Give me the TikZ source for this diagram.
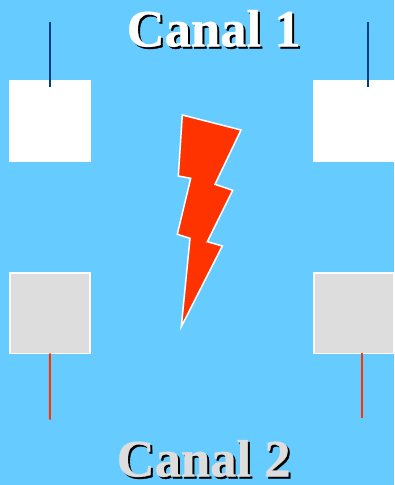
\documentclass[tikz,border=0pt]{standalone}
\usepackage{fontspec}
\setmainfont{Liberation Serif}[BoldFeatures={FakeBold=0.6}]
\definecolor{bgblue}{HTML}{66CCFF}
\definecolor{boltred}{HTML}{FF3300}
\definecolor{stubblue}{HTML}{003F7F}
\definecolor{panelgrey}{HTML}{DDDDDD}
\tikzset{
  panel/.style={minimum width=82pt,minimum height=82pt,inner sep=0pt,outer sep=0pt,anchor=north west},
  whitepanel/.style={panel,fill=white},
  greypanel/.style={panel,minimum width=80.5pt,minimum height=80.5pt,fill=panelgrey,draw=white,line width=1.6pt},
  stubtop/.style={stubblue,line width=2pt},
  stubbot/.style={boltred,line width=2pt},
  title/.style={font=\fontsize{52.6pt}{52.6pt}\selectfont\bfseries,inner sep=0pt,anchor=base west},
}
\begin{document}
\begin{tikzpicture}[x=1pt,y=-1pt]
\useasboundingbox (0,0) rectangle (394,485);
\clip (0,0) rectangle (394,485);
\fill[bgblue] (0,0) rectangle (394,485);
% panels
\node[whitepanel] (a1) at (9,80) {};
\node[whitepanel] (b1) at (313,80) {};
\node[greypanel] (a2) at (9.7,272.8) {};
\node[greypanel] (b2) at (313.7,272.8) {};
% stubs
\coordinate (a1s) at (50,22);
\coordinate (a1e) at (50,87);
\coordinate (b1s) at (368,22);
\coordinate (b1e) at (368,87);
\coordinate (a2e) at (50,419.5);
\coordinate (b2e) at (362,418);
\draw[stubtop] (a1s) -- (a1e);
\draw[stubtop] (b1s) -- (b1e);
\draw[stubbot] (a2.south) -- (a2e);
\draw[stubbot] (362,353) -- (b2e);
% bolt
\draw[fill=boltred,draw=white,line width=1.5pt,line join=miter]
  (182.3,115) -- (241,130) -- (215,184.3) -- (232.7,190.3) -- (207.3,241.7)
  -- (222.3,246) -- (181.3,326.7) -- (190,238.3) -- (177.3,234.3)
  -- (190.7,178.3) -- (178.3,176) -- cycle;
% titles
\node[title,text=black] at (128.5,48.5) {Canal 1};
\node[title,text=white] (t1) at (126.5,46.5) {Canal 1};
\node[title,text=black] at (118.5,478.5) {Canal 2};
\node[title,text=panelgrey] (t2) at (116.5,476.5) {Canal 2};
\end{tikzpicture}
\end{document}
